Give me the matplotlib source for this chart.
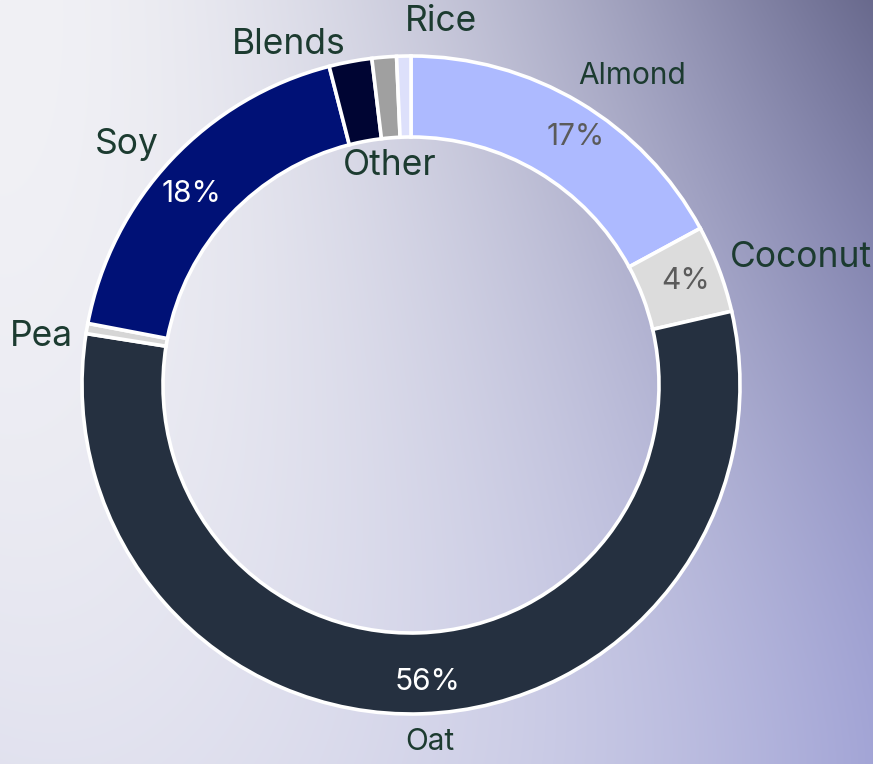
import numpy as np
import matplotlib
matplotlib.use('Agg')
import matplotlib.pyplot as plt
from matplotlib.colors import to_rgb

# plant-based milk market share, clockwise from 12 o'clock
categories = ['Almond', 'Coconut', 'Oat', 'Pea', 'Soy', 'Blends', 'Other', 'Rice']
shares = [17.1, 4.3, 56.1, 0.5, 18.0, 2.1, 1.2, 0.7]
colors = ['#adbaff', '#dcdcdc', '#253040', '#d6d6d6',
          '#001176', '#000533', '#a0a0a0', '#dde0fb']
pct_colors = ['#5b5b5b', '#5b5b5b', 'white', None, 'white', None, None, None]

W, H = 873, 764
CX, CY = 411, H - 385
R = 329
RING = 81
TXT = '#1c3b30'

# label placement: radius factor, alignment, nudge in px, font size
label_style = {
    'Almond':  (1.05, 'left',   (-10, 12), 21.5),
    'Coconut': (1.05, 'left',   (-4, 5),   25.5),
    'Oat':     (1.05, 'center', (7, -12),  21.5),
    'Pea':     (1.05, 'right',  (2, -11),  25.5),
    'Soy':     (1.05, 'right',  (0, 4),    25.5),
    'Blends':  (1.05, 'right',  (-2, 1),   25.5),
    'Other':   (0.67, 'center', (-3, 0),   25.5),
    'Rice':    (1.05, 'left',   (1, 18),   25.5),
}
pct_nudge = {'Almond': (14, -4), 'Coconut': (0, 0), 'Oat': (6, -4), 'Soy': (-6, -10)}


def background(w, h):
    u = np.linspace(0, 1, w)[None, :]
    v = np.linspace(0, 1, h)[:, None]
    light = np.array(to_rgb('#f1f1f5'))
    lilac = np.array(to_rgb('#a3a5d6'))
    dark = np.array(to_rgb('#4a4a66'))
    a = np.clip(u ** 1.8 + 0.2 * v ** 2 * (1 - u), 0, 1)[..., None]
    img = light * (1 - a) + lilac * a
    b = (0.65 * u ** 2.2 * (1 - v) ** 1.6)[..., None]
    return img * (1 - b) + dark * b


fig = plt.figure(figsize=(W / 100, H / 100), dpi=100)
ax = fig.add_axes([0, 0, 1, 1])
ax.imshow(background(W, H), extent=(0, W, 0, H), origin='upper', zorder=0)

wedges, _ = ax.pie(shares, colors=colors, startangle=90, counterclock=False,
                   radius=R, center=(CX, CY),
                   wedgeprops=dict(width=RING, edgecolor='white', linewidth=2.6))
for w in wedges:
    w.set_zorder(2)

total = sum(shares)
cum = 0.0
for name, val, pc in zip(categories, shares, pct_colors):
    mid = np.deg2rad((cum + val / 2) / total * 360)
    cum += val
    rf, ha, (dx, dy), fs = label_style[name]
    x = CX + R * rf * np.sin(mid) + dx
    y = CY + R * rf * np.cos(mid) + dy
    ax.text(x, y, name, ha=ha, va='center', fontsize=fs, color=TXT,
            family='Inter', zorder=3)
    if pc is not None:
        pr = R - RING / 2 + 5
        ndx, ndy = pct_nudge[name]
        ax.text(CX + pr * np.sin(mid) + ndx, CY + pr * np.cos(mid) + ndy,
                f'{val / total * 100:.0f}%', ha='center', va='center',
                fontsize=21.5, color=pc, family='Inter', zorder=3)

ax.set_xlim(0, W)
ax.set_ylim(0, H)
ax.set_aspect('auto')
ax.axis('off')

fig.savefig('out.png', dpi=100)
